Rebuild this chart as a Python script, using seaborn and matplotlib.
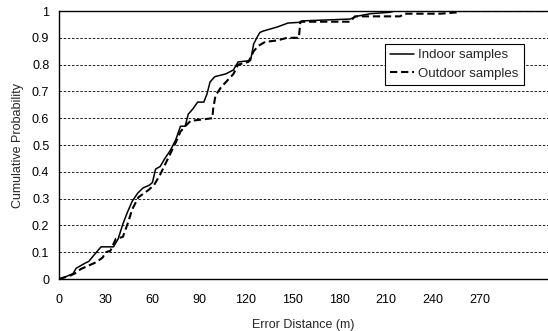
import numpy as np
import pandas as pd
import seaborn as sns
import matplotlib.pyplot as plt

# CDF points
indoor_x = [0, 5, 9, 11, 14, 17, 19, 22, 27, 35, 38, 41, 44, 47, 50.5, 54, 58, 60,
            62, 65, 68, 71.5, 75, 78, 81, 83, 86, 89, 93, 95, 97, 100, 107, 112, 115,
            123, 125, 127, 129, 131, 140, 147, 155, 156, 187, 191, 200, 212, 216, 320]
indoor_y = [0, 0.01, 0.02, 0.04, 0.05, 0.06, 0.065, 0.086, 0.12, 0.12, 0.15, 0.205,
            0.25, 0.29, 0.32, 0.34, 0.35, 0.36, 0.41, 0.42, 0.45, 0.48, 0.52, 0.57,
            0.57, 0.615, 0.635, 0.66, 0.66, 0.69, 0.735, 0.755, 0.765, 0.78, 0.81,
            0.815, 0.877, 0.90, 0.92, 0.925, 0.94, 0.955, 0.958, 0.963, 0.97, 0.98,
            0.99, 0.995, 1.0, 1.0]

outdoor_x = [0, 3, 6, 10, 14, 19, 24, 28, 30, 33, 36.5, 41, 44, 47, 51, 57, 61, 65,
             70, 75, 78, 81, 84.5, 98.5, 99, 100.5, 104, 108, 112, 115, 121.6, 125,
             128, 132.5, 140, 146.5, 154, 155, 187, 190, 219, 222, 245, 256, 258, 320]
outdoor_y = [0, 0.005, 0.01, 0.02, 0.037, 0.05, 0.063, 0.08, 0.10, 0.105, 0.15, 0.157,
             0.205, 0.26, 0.305, 0.33, 0.35, 0.39, 0.45, 0.51, 0.55, 0.57, 0.59, 0.60,
             0.635, 0.685, 0.715, 0.74, 0.765, 0.80, 0.81, 0.85, 0.87, 0.885, 0.89,
             0.90, 0.90, 0.96, 0.96, 0.98, 0.98, 0.99, 0.99, 0.995, 1.0, 1.0]

x_ticks = [0, 30, 60, 90, 120, 150, 180, 210, 240, 270]
y_ticks = [0, 0.1, 0.2, 0.3, 0.4, 0.5, 0.6, 0.7, 0.8, 0.9, 1]
y_labels = ["0", "0.1", "0.2", "0.3", "0.4", "0.5", "0.6", "0.7", "0.8", "0.9", "1"]

sns.set_style("white")
plt.rcParams["font.family"] = ["Liberation Sans", "DejaVu Sans"]

fig = plt.figure(figsize=(5.48, 3.31), dpi=100)
ax = fig.add_axes([59 / 548, 1 - 279 / 331, 489 / 548, 268 / 331])

df_in = pd.DataFrame({"x": indoor_x, "y": indoor_y})
df_out = pd.DataFrame({"x": outdoor_x, "y": outdoor_y})

sns.lineplot(data=df_in, x="x", y="y", ax=ax, color="black", lw=1.1,
             sort=False, estimator=None, label="Indoor samples")
sns.lineplot(data=df_out, x="x", y="y", ax=ax, color="black", lw=1.5,
             sort=False, estimator=None, label="Outdoor samples")
ax.lines[-1].set_dashes((3.5, 1.8))

ax.set_xlim(0, 314)
ax.set_ylim(0, 1)
ax.set_xticks(x_ticks)
ax.set_yticks(y_ticks)
ax.set_yticklabels(y_labels)
ax.tick_params(direction="in", length=3, width=0.8, labelsize=9, colors="black")
ax.tick_params(axis="x", pad=11)
ax.tick_params(axis="y", pad=7)
ax.yaxis.grid(True, linestyle=(0, (3, 2)), color="black", lw=0.6)
ax.xaxis.grid(False)

for side in ["left", "bottom", "top"]:
    ax.spines[side].set_color("black")
    ax.spines[side].set_linewidth(1.0)
ax.spines["right"].set_visible(False)

ax.set_xlabel("Error Distance (m)", fontsize=9, labelpad=9)
ax.set_ylabel("Cumulative Probability", fontsize=9, labelpad=6)

# legend: box with square corners, black edge
leg = ax.legend(loc="upper right", bbox_to_anchor=(0.95, 0.877),
                borderaxespad=0, fontsize=9.5, fancybox=False, framealpha=1,
                handlelength=1.8, handletextpad=0.3, borderpad=0.4,
                labelspacing=0.45)
leg.get_frame().set_edgecolor("black")
leg.get_frame().set_linewidth(0.8)

fig.savefig("out.png", dpi=100)
